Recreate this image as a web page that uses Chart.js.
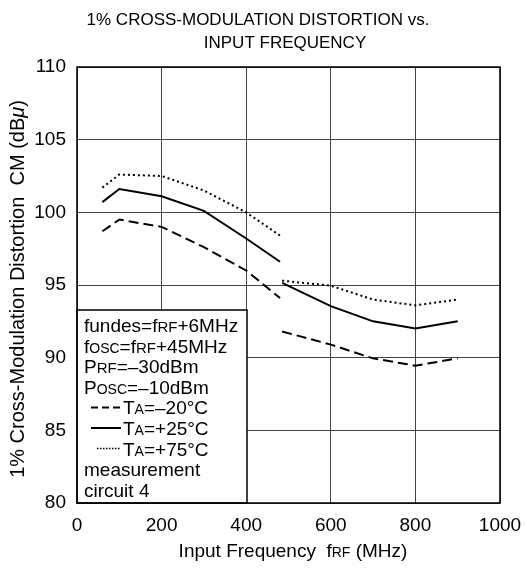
<!DOCTYPE html>
<html>
<head>
<meta charset="utf-8">
<script src="https://cdn.jsdelivr.net/npm/chart.js@4/dist/chart.umd.min.js"></script>
<style>
  html, body { margin: 0; padding: 0; background: #fff; }
  #wrap { width: 525px; height: 571px; }
</style>
</head>
<body>
<div id="wrap"><canvas id="chart" width="525" height="571"></canvas></div>
<script>
// Data (MHz / dBu)
const freqLow = [60, 100, 200, 300, 400, 480];
const freqHigh = [485, 600, 700, 800, 900];
const cmLowM20 = [98.7, 99.5, 99.0, 97.6, 96.0, 94.1];
const cmLowP25 = [100.7, 101.6, 101.1, 100.1, 98.2, 96.6];
const cmLowP75 = [101.7, 102.6, 102.5, 101.5, 100.0, 98.4];
const cmHighM20 = [91.8, 90.9, 89.95, 89.45, 89.95];
const cmHighP25 = [95.15, 93.55, 92.5, 92.0, 92.5];
const cmHighP75 = [95.3, 94.95, 94.0, 93.6, 94.0];
const xTicks = [0, 200, 400, 600, 800, 1000];
const yTicks = [80, 85, 90, 95, 100, 105, 110];

const FONT = '"Liberation Sans", Arial, sans-serif';

// join the two measured segments with a gap between them
function series(lowY, highY) {
    const pts = freqLow.map((f, i) => ({ x: f, y: lowY[i] }));
    pts.push({ x: 482, y: null });
    freqHigh.forEach((f, i) => pts.push({ x: f, y: highY[i] }));
    return pts;
}

// draw text made of runs: [text, size, italic]
function richText(ctx, x, y, runs, align) {
    let total = 0;
    runs.forEach(r => {
        ctx.font = (r[2] ? 'italic ' : '') + r[1] + 'px ' + FONT;
        total += ctx.measureText(r[0]).width;
    });
    let cx = align === 'center' ? x - total / 2 : x;
    ctx.textAlign = 'left';
    ctx.textBaseline = 'alphabetic';
    runs.forEach(r => {
        ctx.font = (r[2] ? 'italic ' : '') + r[1] + 'px ' + FONT;
        ctx.fillText(r[0], cx, y);
        cx += ctx.measureText(r[0]).width;
    });
}

const annotations = {
    id: 'annotations',
    afterDraw(chart) {
        const ctx = chart.ctx;
        const a = chart.chartArea;
        ctx.save();
        ctx.fillStyle = '#000';

        // title
        ctx.font = '17px ' + FONT;
        ctx.textAlign = 'center';
        ctx.textBaseline = 'alphabetic';
        ctx.fillText('1% CROSS-MODULATION DISTORTION vs.', 258, 25);
        ctx.fillText('INPUT FREQUENCY', 285, 48);

        // x axis title
        richText(ctx, 293, 557, [['Input Frequency  f', 19], ['RF', 14], [' (MHz)', 19]], 'center');

        // y axis title
        ctx.save();
        ctx.translate(24, 289);
        ctx.rotate(-Math.PI / 2);
        richText(ctx, 0, 0, [['1% Cross-Modulation Distortion  CM (dB', 20], ['\u03bc', 20, true], [')', 20]], 'center');
        ctx.restore();

        // condition box
        const bx = a.left, by = 310, bw = 170, bh = a.bottom - 310;
        ctx.fillStyle = '#fff';
        ctx.fillRect(bx, by, bw, bh);
        ctx.strokeStyle = '#000';
        ctx.lineWidth = 1.5;
        ctx.strokeRect(bx, by, bw, bh);
        ctx.fillStyle = '#000';
        const tx = 84, lh = 20.6;
        let ty = 332;
        richText(ctx, tx, ty, [['fundes=f', 19], ['RF', 15], ['+6MHz', 19]]);
        ty += lh;
        richText(ctx, tx, ty, [['f', 19], ['OSC', 14], ['=f', 19], ['RF', 15], ['+45MHz', 19]]);
        ty += lh;
        richText(ctx, tx, ty, [['P', 19], ['RF', 15], ['=\u201330dBm', 19]]);
        ty += lh;
        richText(ctx, tx, ty, [['P', 19], ['OSC', 14], ['=\u201310dBm', 19]]);
        const samples = [
            { dash: [7, 4], x0: 91, label: '=\u201320\u00b0C' },
            { dash: [], x0: 91, label: '=+25\u00b0C' },
            { dash: [1.5, 1.5], x0: 97, label: '=+75\u00b0C' }
        ];
        samples.forEach((s, i) => {
            ty += lh;
            ctx.beginPath();
            ctx.setLineDash(s.dash);
            ctx.lineWidth = s.dash.length && s.dash[0] < 2 ? 1.5 : 2;
            ctx.moveTo(s.x0, ty - 7);
            ctx.lineTo(121, ty - 7);
            ctx.stroke();
            ctx.setLineDash([]);
            richText(ctx, 123, ty, [['T', 19], ['A', 14], [s.label, 19]]);
        });
        ty += lh;
        richText(ctx, tx, ty, [['measurement', 19]]);
        ty += lh;
        richText(ctx, tx, ty, [['circuit 4', 19]]);

        // frame
        ctx.lineWidth = 1.5;
        ctx.strokeRect(a.left, a.top, a.right - a.left, a.bottom - a.top);
        ctx.restore();
    }
};

const lineStyle = { borderColor: '#000', borderWidth: 2, pointRadius: 0, fill: false, tension: 0, spanGaps: false };

new Chart(document.getElementById('chart'), {
    type: 'line',
    data: {
        datasets: [
            Object.assign({ label: 'TA=-20C', data: series(cmLowM20, cmHighM20), borderDash: [10, 5] }, lineStyle),
            Object.assign({ label: 'TA=+25C', data: series(cmLowP25, cmHighP25) }, lineStyle),
            Object.assign({ label: 'TA=+75C', data: series(cmLowP75, cmHighP75), borderDash: [2, 3] }, lineStyle)
        ]
    },
    options: {
        responsive: false,
        animation: false,
        layout: { padding: { top: 67, right: 25, left: 0, bottom: 0 } },
        plugins: { legend: { display: false }, tooltip: { enabled: false } },
        scales: {
            x: {
                type: 'linear',
                min: 0, max: 1000,
                afterBuildTicks: s => { s.ticks = xTicks.map(v => ({ value: v })); },
                afterFit: s => { s.height = 68; s.paddingLeft = 0; s.paddingRight = 0; },
                grid: { color: '#444', lineWidth: 1, drawTicks: false },
                border: { display: false },
                ticks: { color: '#000', font: { family: FONT, size: 19 }, padding: 11, maxRotation: 0, callback: v => String(v) }
            },
            y: {
                min: 80, max: 110,
                afterBuildTicks: s => { s.ticks = yTicks.map(v => ({ value: v })); },
                afterFit: s => { s.width = 77; s.paddingTop = 0; s.paddingBottom = 0; },
                grid: { color: '#444', lineWidth: 1, drawTicks: false },
                border: { display: false },
                ticks: { color: '#000', font: { family: FONT, size: 19 }, padding: 11, callback: v => String(v) }
            }
        }
    },
    plugins: [annotations]
});
</script>
</body>
</html>
